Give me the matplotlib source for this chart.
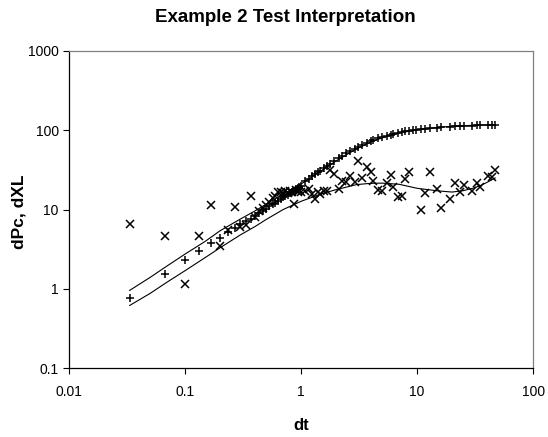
import numpy as np
import matplotlib
matplotlib.use("Agg")
import matplotlib.pyplot as plt

plt.rcParams['font.family'] = ['Liberation Sans', 'DejaVu Sans']

# elapsed time (shared by both measured series)
dt = [0.0333, 0.0667, 0.1, 0.133, 0.167, 0.2, 0.233, 0.267, 0.3, 0.333,
      0.367, 0.4, 0.433, 0.467, 0.5, 0.533, 0.567, 0.6, 0.633, 0.667,
      0.7, 0.733, 0.767, 0.8, 0.833, 0.867, 0.9, 0.933, 0.967, 1.0,
      1.08, 1.16, 1.24, 1.32, 1.39, 1.46, 1.56, 1.67, 1.78, 1.93,
      2.1, 2.25, 2.45, 2.64, 2.92, 3.12, 3.33, 3.68, 3.99, 4.2,
      4.6, 4.96, 5.5, 5.94, 6.24, 6.9, 7.4, 7.9, 8.58, 9.2,
      9.8, 10.7, 11.7, 12.8, 14.8, 16.0, 19.0, 21.0, 23.5, 25.2,
      29.6, 32.6, 35.0, 41.0, 44.0, 47.0]

# dPc ("+")
dPc = [0.78, 1.55, 2.3, 3.05, 3.75, 4.4, 5.2, 5.9, 6.5, 7.1,
       7.7, 8.4, 9.0, 9.6, 10.3, 11.0, 11.6, 12.2, 12.9, 13.6,
       14.2, 14.8, 15.4, 16.1, 16.7, 17.3, 17.9, 18.6, 19.2, 19.8,
       23.0, 24.5, 26.5, 28.0, 29.5, 31.0, 33.0, 35.5, 37.5, 41.0,
       44.0, 47.0, 51.0, 54.0, 58.5, 62.0, 65.0, 69.0, 73.0, 75.0,
       78.5, 81.5, 85.5, 88.0, 90.0, 93.0, 95.0, 97.0, 98.5, 100.0,
       101.0, 102.0, 104.0, 105.5, 107.0, 108.0, 111.0, 112.0, 112.5, 113.0,
       114.0, 114.5, 115.0, 116.0, 116.5, 117.0]

# dXL ("x")
dXL = [6.6, 4.7, 1.14, 4.7, 11.4, 3.45, 5.5, 10.9, 6.0, 6.4,
       14.8, 8.0, 9.5, 10.5, 11.5, 12.5, 13.8, 15.0, 16.5, 16.5,
       16.0, 17.0, 16.3, 17.2, 16.8, 11.8, 17.5, 16.5, 17.7, 16.5,
       17.0, 18.2, 15.7, 13.6, 16.5, 15.7, 17.3, 17.3, 31.5, 28.0,
       18.2, 23.0, 22.5, 26.6, 22.0, 41.0, 25.0, 34.0, 30.0, 23.0,
       17.7, 17.0, 21.4, 27.0, 19.5, 14.3, 15.0, 24.2, 29.4, np.nan,
       np.nan, 9.9, 16.0, 29.4, 18.2, 10.5, 13.6, 21.4, 16.5, 20.5,
       17.3, 21.4, 19.5, 26.6, 26.0, 31.4]

# fitted curves
fit_dt = [0.0333, 0.05, 0.07, 0.1, 0.15, 0.2, 0.3, 0.4, 0.5, 0.7,
          1.0, 1.5, 2.0, 3.0, 4.0, 5.0, 7.0, 10.0, 15.0, 20.0,
          25.0, 30.0, 35.0, 40.0, 47.0]
fit_dPc = [0.96, 1.4, 1.95, 2.75, 4.0, 5.4, 7.6, 9.6, 11.7, 15.7,
           21.0, 31.0, 41.0, 58.0, 71.0, 80.0, 92.0, 101.0, 108.0, 112.0,
           113.5, 115.0, 115.5, 116.0, 117.0]
fit_dXL = [0.62, 0.88, 1.22, 1.7, 2.5, 3.3, 4.8, 6.1, 7.5, 10.0,
           12.7, 15.8, 17.8, 20.6, 21.4, 21.5, 20.8, 18.5, 17.2, 16.6,
           17.3, 18.5, 20.0, 22.0, 25.0]

fig = plt.figure(figsize=(5.48, 4.37), dpi=100)
ax = fig.add_axes([0.126, 0.157, 0.847, 0.727])

ax.plot(fit_dt, fit_dPc, color='black', lw=0.8)
ax.plot(fit_dt, fit_dXL, color='black', lw=0.8)
ax.plot(dt, dPc, linestyle='none', marker='+', ms=5.5, mew=1.1, color='black')
ax.plot(dt, dXL, linestyle='none', marker='x', ms=5.3, mew=1.1, color='black')

ax.set_xscale('log')
ax.set_yscale('log')
ax.set_xlim(0.01, 100)
ax.set_ylim(0.1, 1000)
ax.set_xticks([0.01, 0.1, 1, 10, 100], ['0.01', '0.1', '1', '10', '100'])
ax.set_yticks([0.1, 1, 10, 100, 1000], ['0.1', '1', '10', '100', '1000'])
ax.minorticks_off()
ax.tick_params(axis='both', direction='out', length=4, width=0.8,
               labelsize=10, colors='black')
ax.tick_params(axis='x', pad=8)

for s in ['top', 'right']:
    ax.spines[s].set_color('#808080')
for s in ['left', 'bottom']:
    ax.spines[s].set_color('black')
for s in ax.spines.values():
    s.set_linewidth(0.9)

fig.text(285 / 548, 1 - 17.5 / 437, 'Example 2 Test Interpretation',
         fontsize=13.5, fontweight='bold', ha='center', va='center')
fig.text(301 / 548, 1 - 425 / 437, 'dt', fontsize=12, fontweight='bold',
         ha='center', va='center')
fig.text(19 / 548, 1 - 212 / 437, 'dPc, dXL', fontsize=12.5,
         fontweight='bold', rotation=90, ha='center', va='center')

fig.savefig('out.png', dpi=100)
